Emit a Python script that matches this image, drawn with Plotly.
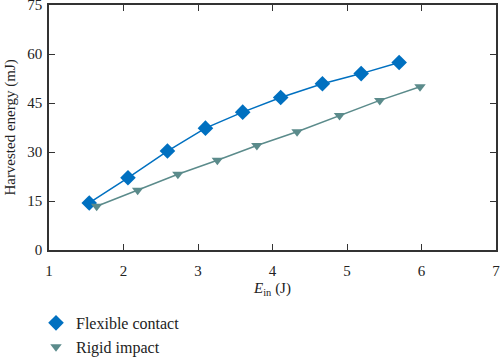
import plotly.graph_objects as go

flex_x = [1.54, 2.06, 2.59, 3.10, 3.60, 4.11, 4.67, 5.19, 5.70]
flex_y = [14.4, 22.1, 30.3, 37.3, 42.2, 46.7, 50.9, 54.0, 57.4]
rigid_x = [1.64, 2.19, 2.73, 3.26, 3.79, 4.33, 4.90, 5.44, 5.98]
rigid_y = [13.4, 18.3, 23.2, 27.5, 32.0, 36.2, 41.2, 45.8, 50.0]
x_ticks = [1, 2, 3, 4, 5, 6, 7]
y_ticks = [0, 15, 30, 45, 60, 75]
y_title = "Harvested energy (mJ)"

BLUE = "#0070C0"
TEAL = "#5B8B8B"
FONT = "Liberation Serif"
TXT = "#222222"

fig = go.Figure()
fig.add_trace(go.Scatter(x=flex_x, y=flex_y, mode="lines+markers",
                         line=dict(color=BLUE, width=1.5),
                         marker=dict(symbol="diamond", size=12, color=BLUE),
                         showlegend=False))
fig.add_trace(go.Scatter(x=rigid_x, y=rigid_y, mode="lines+markers",
                         line=dict(color=TEAL, width=1.5),
                         marker=dict(symbol="triangle-down", size=10, color=TEAL),
                         showlegend=False))
fig.add_trace(go.Scatter(x=[None], y=[None], mode="markers", name="Flexible contact",
                         marker=dict(symbol="diamond", size=12, color=BLUE)))
fig.add_trace(go.Scatter(x=[None], y=[None], mode="markers", name="Rigid impact",
                         marker=dict(symbol="triangle-down", size=10, color=TEAL)))

axis_common = dict(showline=True, linecolor="#333333", linewidth=1.5, mirror="ticks",
                   ticks="inside", ticklen=6, tickwidth=1.3, tickcolor="#333333",
                   showgrid=False, zeroline=False, ticklabeloverflow="allow",
                   tickfont=dict(family=FONT, size=15, color=TXT))

fig.update_xaxes(range=[1, 7], tickvals=x_ticks, ticklabelstandoff=6, **axis_common,
                 title=dict(text="<i>E</i><sub>in</sub> (J)", font=dict(family=FONT, size=15, color=TXT),
                            standoff=5))
fig.update_yaxes(range=[0, 75], tickvals=y_ticks, ticklabelstandoff=2, **axis_common)

fig.add_annotation(text=y_title, xref="paper", yref="paper", x=-0.087, y=0.5,
                   xanchor="center", yanchor="middle", textangle=-90, showarrow=False,
                   font=dict(family=FONT, size=15, color=TXT))

fig.update_layout(
    width=500, height=357,
    margin=dict(l=49, r=4, t=5, b=107, autoexpand=False),
    plot_bgcolor="white", paper_bgcolor="white",
    font=dict(family=FONT, size=15, color=TXT),
    legend=dict(xref="container", yref="container", x=0.072, xanchor="left",
                y=0.143, yanchor="top",
                itemwidth=30, tracegroupgap=0, font=dict(family=FONT, size=16, color=TXT),
                bgcolor="rgba(0,0,0,0)"),
)

fig.write_html("out.html", config={"displayModeBar": False},
               post_script="document.body.style.margin='0';")
